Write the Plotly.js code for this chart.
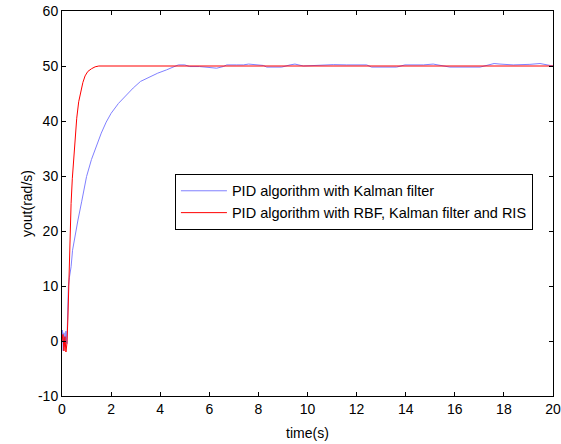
<!DOCTYPE html>
<html>
<head>
<meta charset="utf-8">
<script src="https://cdn.plot.ly/plotly-3.0.1.min.js"></script>
<style>html,body{margin:0;padding:0;background:#fff;}#chart{width:561px;height:444px;}</style>
</head>
<body>
<div id="chart"></div>
<script>
// Series: PID algorithm with Kalman filter (blue)
const tKalman = [0, 0.02, 0.05, 0.08, 0.12, 0.16, 0.2, 0.23, 0.26, 0.3, 0.37, 0.43, 0.5, 0.56, 0.65, 0.8, 1.0, 1.2, 1.4, 1.6, 1.8, 2.0, 2.3, 2.6, 2.9, 3.2, 3.5, 3.9, 4.26, 4.5, 4.74, 5.0, 5.2, 5.6, 5.96, 6.3, 6.57, 6.71, 7.12, 7.39, 7.6, 7.8, 8.2, 8.34, 8.95, 9.29, 9.49, 9.83, 10.37, 10.7, 11.05, 11.6, 12.41, 12.61, 13.63, 13.97, 14.72, 15.12, 15.53, 15.8, 17.03, 17.43, 17.6, 17.84, 18.38, 19.06, 19.47, 19.88, 20];
const yKalman = [0, 2, -1.8, 1.5, -1, 1.8, -0.5, 5.6, 9.9, 11.5, 13.5, 16.5, 18.5, 20.2, 22, 25.3, 29.9, 33, 35.5, 37.8, 39.8, 41.4, 43.2, 44.7, 46.0, 47.2, 47.9, 48.7, 49.3, 49.7, 50.2, 50.2, 49.9, 49.9, 49.7, 49.6, 49.9, 50.2, 50.2, 50.2, 50.35, 50.3, 50.1, 49.8, 49.8, 50.2, 50.35, 50.0, 50.1, 50.25, 50.25, 50.2, 50.2, 49.8, 49.8, 50.2, 50.2, 50.35, 50.1, 49.8, 49.8, 50.2, 50.45, 50.35, 50.2, 50.3, 50.45, 50.1, 50];

// Series: PID algorithm with RBF, Kalman filter and RIS (red)
const tRBF = [0, 0.04, 0.08, 0.12, 0.16, 0.2, 0.24, 0.27, 0.3, 0.33, 0.37, 0.42, 0.47, 0.53, 0.6, 0.68, 0.76, 0.85, 0.94, 1.05, 1.2, 1.35, 1.5, 20];
const yRBF = [0, 1.2, -1.8, 0.8, -2, -0.5, 4, 9, 15, 21, 25, 29.5, 33, 37.5, 40.5, 43.5, 45.5, 47, 48.2, 49, 49.5, 49.85, 50, 50];

const names = ["PID algorithm with Kalman filter", "PID algorithm with RBF, Kalman filter and RIS"];
const xTicks = [0, 2, 4, 6, 8, 10, 12, 14, 16, 18, 20];
const yTicks = [-10, 0, 10, 20, 30, 40, 50, 60];

const FONT = "Arial, 'Liberation Sans', sans-serif";
const FS = 14;

const traces = [
  {x: tKalman, y: yKalman, name: names[0], type: "scatter", mode: "lines",
   line: {color: "#8080ff", width: 1}},
  {x: tRBF, y: yRBF, name: names[1], type: "scatter", mode: "lines",
   line: {color: "#ff0000", width: 1}}
];

const axisCommon = {
  showline: true, linecolor: "#000", linewidth: 1, mirror: "ticks",
  ticks: "inside", ticklen: 4, tickcolor: "#000", tickwidth: 1,
  showgrid: false, zeroline: false,
  tickfont: {family: FONT, size: FS, color: "#000"}
};

const layout = {
  width: 561, height: 444,
  margin: {l: 62, r: 8, t: 11, b: 48},
  paper_bgcolor: "#fff", plot_bgcolor: "#fff",
  font: {family: FONT, size: FS, color: "#000"},
  showlegend: true,
  legend: {
    x: 0.23, y: 0.577, xanchor: "left", yanchor: "top",
    bgcolor: "#fff", bordercolor: "#000", borderwidth: 1,
    font: {family: FONT, size: 14.5, color: "#000"},
    itemwidth: 46,
    tracegroupgap: 0
  },
  xaxis: Object.assign({}, axisCommon, {
    range: [0, 20], tickvals: xTicks, ticktext: xTicks.map(String),
    title: {text: "time(s)", font: {family: FONT, size: FS, color: "#000"}, standoff: 12}
  }),
  yaxis: Object.assign({}, axisCommon, {
    range: [-10, 60], tickvals: yTicks, ticktext: yTicks.map(String),
    title: {text: "yout(rad/s)", font: {family: FONT, size: FS, color: "#000"}, standoff: 2}
  })
};

Plotly.newPlot("chart", traces, layout, {displayModeBar: false, staticPlot: true});
</script>
</body>
</html>
